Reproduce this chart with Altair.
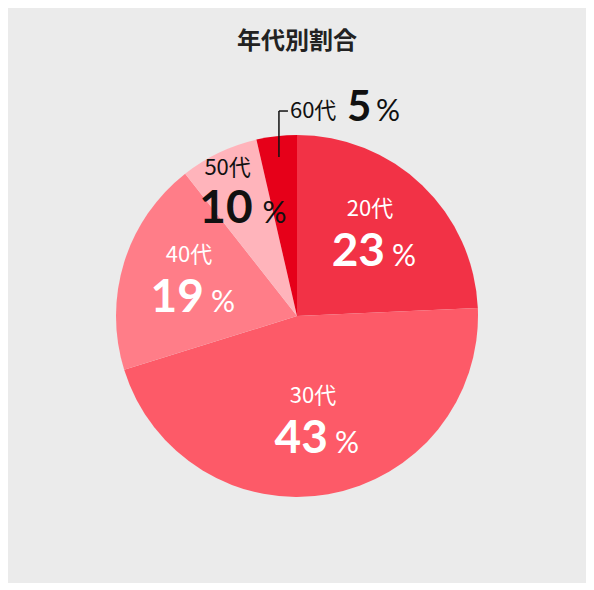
import math

import altair as alt
import pandas as pd

# 年代別割合: スライスの大きさは図から読み取った値、表示ラベルは図中の数字
ages = ["20代", "30代", "40代", "50代", "60代"]
shares = [24.3, 45.9, 19.2, 7.0, 3.6]
pct_labels = ["23", "43", "19", "10", "5"]
slice_colors = ["#f23246", "#fd5a68", "#ff7d88", "#ffb4bb", "#e60019"]

W, H = 578, 470
R = 181
total = sum(shares)

df = pd.DataFrame({
    "age": ages,
    "share": shares,
    "pct": pct_labels,
    "rank": list(range(len(ages))),
})

theta_scale = alt.Scale(domain=[0, total])

pie = (
    alt.Chart(df)
    .mark_arc(outerRadius=R)
    .encode(
        theta=alt.Theta("share:Q", stack=True, scale=theta_scale),
        order=alt.Order("rank:Q"),
        color=alt.Color(
            "age:N",
            scale=alt.Scale(domain=ages, range=slice_colors),
            legend=None
        ),
    )
)

# ラベル用: 各スライスの中央角
mid = (
    alt.Chart(df)
    .transform_window(cum="sum(share)", sort=[alt.SortField("rank")])
    .transform_calculate(mid="datum.cum - datum.share / 2")
    .encode(theta=alt.Theta("mid:Q", stack=None, scale=theta_scale))
)

NAME_FONT = "Noto Sans CJK JP"
NUM_FONT = "Lato"


def label_layers(ages_sel, radius, color, name_off, num_off, pct_off, num_size):
    sub = mid.transform_filter(alt.FieldOneOfPredicate(field="age", oneOf=ages_sel))
    name = sub.mark_text(
        radius=radius, font=NAME_FONT, fontSize=22, color=color,
        align=name_off[2], baseline="middle", dx=name_off[0], dy=name_off[1]
    ).encode(text="age:N")
    num = sub.mark_text(
        radius=radius, font=NUM_FONT, fontSize=num_size, fontWeight="bold",
        color=color, align=num_off[2], baseline="alphabetic",
        dx=num_off[0], dy=num_off[1]
    ).encode(text="pct:N")
    pct = sub.mark_text(
        radius=radius, font=NUM_FONT, fontSize=30, color=color,
        align="left", baseline="alphabetic", dx=pct_off[0], dy=pct_off[1], text="%"
    ).encode()
    return [name, num, pct]


inner = label_layers(ages[:3], 110, "white",
                     (-3, -28, "center"), (12, 29, "right"), (19, 29), 46)
fifty = label_layers(ages[3:4], 140, "#111111",
                     (-9, -22, "center"), (16, 33, "right"), (26, 33), 46)
sixty = label_layers(ages[4:], 160, "#111111",
                     (11, -46, "left"), (68, -36, "left"), (97, -36), 42)

# 60代の引き出し線 (スライス中央角から計算)
ang = (sum(shares[:4]) + shares[4] / 2) / total * 2 * math.pi
lx = W / 2 + 160 * math.sin(ang)
ly = H / 2 - 160 * math.cos(ang)
one = alt.Chart(df).transform_filter(alt.datum.age == ages[4])
leader_v = one.mark_rule(color="#111111", strokeWidth=1.5).encode(
    x=alt.value(lx), y=alt.value(ly), y2=alt.value(ly - 46)
)
leader_h = one.mark_rule(color="#111111", strokeWidth=1.5).encode(
    x=alt.value(lx), x2=alt.value(lx + 9), y=alt.value(ly - 46)
)

chart = (
    alt.layer(pie, *inner, *fifty, *sixty, leader_v, leader_h)
    .properties(
        width=W,
        height=H,
        background="#ebebeb",
        padding={"top": 22, "left": 0, "right": 0, "bottom": 32},
        title=alt.TitleParams(
            "年代別割合", font=NAME_FONT, fontSize=24, fontWeight="bold",
            color="#222222", anchor="middle", offset=27
        ),
    )
    .configure_view(stroke=None)
)

chart.save("out.html", embed_options={"renderer": "svg", "actions": False})
